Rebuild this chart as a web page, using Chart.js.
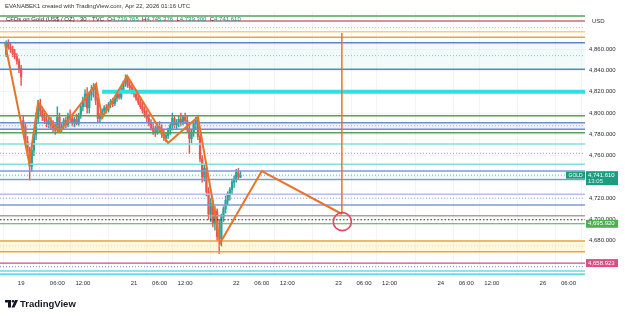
<!DOCTYPE html>
<html>
<head>
<meta charset="utf-8">
<script src="https://cdn.jsdelivr.net/npm/chart.js@4.4.1/dist/chart.umd.min.js"></script>
<style>
  html, body { margin: 0; padding: 0; background: #fff; }
  #wrap { position: relative; width: 625px; height: 319px; }
</style>
</head>
<body>
<div id="wrap"><canvas id="grafico" width="625" height="319"></canvas></div>
<script>
// =================== DATOS ===================
// Velas de 30 min; el eje x va en horas relativas al 21 abr 00:00 UTC
const primeraVela = -30;
const pasoVela = 0.5;

const aperturas = [
  4855, 4866, 4862, 4860, 4856, 4853, 4849, 4842,
  4793, 4787, 4773, 4765, 4750, 4765, 4780, 4795, 4808,
  4802, 4796, 4793, 4790, 4792, 4788, 4786, 4784, 4796, 4786,
  4788, 4793, 4789, 4798, 4795, 4791, 4794, 4790, 4798, 4806, 4812, 4818, 4805, 4817, 4822, 4824,
  4812, 4795, 4798, 4802, 4805, 4803, 4808, 4811, 4809, 4814, 4818, 4815, 4822, 4828, 4832, 4826, 4824, 4820, 4818,
  4814, 4810, 4806, 4802, 4798, 4795, 4790, 4786, 4783, 4782, 4787, 4785, 4780, 4777, 4779,
  4784, 4788, 4795, 4789, 4791, 4794, 4792, 4796, 4793, 4785, 4776, 4782, 4790, 4793,
  4778, 4757, 4740, 4748, 4726, 4705, 4715, 4697, 4708, 4684,
  4682, 4702, 4710, 4718, 4724, 4728, 4735, 4738, 4744, 4739.765
];
const maximos = [
  4868, 4869, 4866, 4863, 4860, 4856, 4851, 4845,
  4797, 4790, 4778, 4768, 4770, 4785, 4800, 4812, 4813,
  4806, 4800, 4797, 4795, 4796, 4793, 4790, 4806, 4800, 4790,
  4795, 4796, 4800, 4803, 4798, 4796, 4799, 4800, 4808, 4815, 4822, 4824, 4820, 4826, 4828, 4827,
  4815, 4800, 4804, 4807, 4808, 4810, 4813, 4814, 4816, 4820, 4822, 4824, 4830, 4836, 4834, 4830, 4828, 4823, 4822,
  4818, 4815, 4810, 4806, 4803, 4799, 4794, 4790, 4788, 4790, 4792, 4789, 4784, 4781, 4786,
  4790, 4800, 4798, 4794, 4797, 4800, 4798, 4800, 4797, 4790, 4785, 4792, 4796, 4796,
  4780, 4760, 4752, 4750, 4730, 4720, 4718, 4712, 4710, 4700,
  4705, 4712, 4722, 4726, 4730, 4738, 4741, 4747, 4748, 4745.376
];
const minimos = [
  4853, 4860, 4857, 4853, 4851, 4846, 4838, 4826,
  4783, 4770, 4760, 4737, 4745, 4760, 4775, 4790, 4798,
  4793, 4790, 4787, 4786, 4785, 4782, 4780, 4782, 4783, 4782,
  4785, 4786, 4787, 4792, 4788, 4787, 4789, 4788, 4795, 4802, 4806, 4800, 4800, 4812, 4815, 4808,
  4792, 4791, 4795, 4798, 4800, 4801, 4805, 4806, 4807, 4811, 4813, 4813, 4820, 4825, 4824, 4821, 4818, 4815, 4812,
  4808, 4804, 4800, 4796, 4792, 4788, 4784, 4780, 4778, 4780, 4782, 4777, 4774, 4773, 4776,
  4780, 4784, 4786, 4785, 4787, 4788, 4789, 4790, 4782, 4762, 4772, 4778, 4785, 4775,
  4754, 4735, 4736, 4722, 4700, 4698, 4693, 4690, 4680, 4668,
  4675, 4698, 4706, 4714, 4718, 4724, 4730, 4735, 4738, 4739.3
];
const cierres = [
  4866, 4862, 4860, 4856, 4853, 4849, 4842, 4834,
  4787, 4773, 4765, 4750, 4765, 4780, 4795, 4808, 4802,
  4796, 4793, 4790, 4792, 4788, 4786, 4784, 4796, 4786, 4788,
  4793, 4789, 4798, 4795, 4791, 4794, 4790, 4798, 4806, 4812, 4818, 4805, 4817, 4822, 4824, 4812,
  4795, 4798, 4802, 4805, 4803, 4808, 4811, 4809, 4814, 4818, 4815, 4822, 4828, 4832, 4826, 4824, 4820, 4818, 4814,
  4810, 4806, 4802, 4798, 4795, 4790, 4786, 4783, 4782, 4787, 4785, 4780, 4777, 4779, 4784,
  4788, 4795, 4789, 4791, 4794, 4792, 4796, 4793, 4785, 4776, 4782, 4790, 4793, 4778,
  4757, 4740, 4748, 4726, 4705, 4715, 4697, 4708, 4684, 4682,
  4702, 4710, 4718, 4724, 4728, 4735, 4738, 4744, 4740, 4741.61
];

// Eje de tiempo
const horasTicks = [-26.5, -18, -12, 0, 6, 12, 24, 30, 36, 48, 54, 60, 72, 78, 84, 96, 102];
const etiquetasTicks = ['19', '06:00', '12:00', '21', '06:00', '12:00', '22', '06:00', '12:00',
  '23', '06:00', '12:00', '24', '06:00', '12:00', '26', '06:00'];
const preciosTicks = [4680, 4700, 4720, 4740, 4760, 4780, 4800, 4820, 4840, 4860];

// Niveles horizontales dibujados
const nivelesPrecio = [4891.3, 4886.6, 4880.3, 4876.6, 4871.3, 4866.2, 4854.0, 4841.2, 4820.1,
  4797.6, 4791.0, 4788.1, 4784.8, 4781.6, 4770.9, 4762.2, 4751.8, 4745.5, 4741.61, 4737.6,
  4723.6, 4719.9, 4713.6, 4703.5, 4699.7, 4695.92, 4679.7, 4675.0, 4669.7, 4658.923,
  4655.6, 4651.5, 4648.4];
const nivelInicioCian = -7.5;   // la línea cian gruesa empieza aquí

// Zonas sombreadas (techo / piso)
const zonasTecho = [4866.2, 4791.0, 4679.7];
const zonasPiso  = [4841.2, 4784.8, 4669.7];

// Zigzag naranja + proyección
const zigHoras  = [-30.3, -24.6, -22.5, -17.6, -8.9, -7.5, -1.6, 8.0, 15.0, 20.2, 30.0, 48.8];
const zigPrecio = [4865.9, 4753.1, 4810.4, 4782.2, 4827.4, 4795.4, 4834.9, 4771.9, 4796.3, 4677.8, 4745.5, 4705.1];
const verticalHora = 48.8;
const verticalTope = 4875.3;
const circuloHora = 48.9;
const circuloPrecio = 4697.9;

// Etiquetas del eje de precios
const etiquetaVerde = 4695.92;
const etiquetaRosa = 4658.923;
const cuentaAtras = '13:05';

// =================== ESTILOS ===================
const VERDE = '#55a05c', AZUL = '#5a86c8', AZUL2 = '#7e9bd6', NARANJA = '#f0a23c';
const estilosNivel = [
  { c: VERDE, w: 1.5 }, { c: '#cf6a7d', w: 1.5 }, { c: '#e8b04a', w: 1, d: [1, 2] },
  { c: '#f3cf86', w: 1.5 }, { c: NARANJA, w: 1.5 }, { c: AZUL, w: 1.5 },
  { c: '#7fcfd0', w: 1, d: [1, 2] }, { c: AZUL, w: 1.5 }, { c: '#2fe0e0', w: 4, desde: true },
  { c: VERDE, w: 1.5 }, { c: '#6b8fd0', w: 1.5 }, { c: '#8fb1e0', w: 1, d: [1, 2] },
  { c: '#6b8fd0', w: 1.5 }, { c: VERDE, w: 1.5 }, { c: '#7ee0e6', w: 1.5 },
  { c: '#a0a0a0', w: 1, d: [1, 2] }, { c: '#7ee0e6', w: 1.5 }, { c: AZUL2, w: 1.5 },
  { c: '#3cbcb0', w: 1, d: [1, 2] }, { c: AZUL2, w: 1.5 }, { c: '#b6bde8', w: 1.5 },
  { c: '#8fb1e0', w: 1, d: [1, 2] }, { c: AZUL2, w: 1.5 }, { c: '#a3a3a3', w: 1.5 },
  { c: '#333333', w: 1.2, d: [1.5, 2] }, { c: VERDE, w: 1.2 }, { c: NARANJA, w: 1.5 },
  { c: '#f3d98a', w: 1, d: [1, 2] }, { c: NARANJA, w: 1.5 }, { c: '#d24c82', w: 1.2 },
  { c: '#8a7ad8', w: 1, d: [1, 2] }, { c: '#6fd8e6', w: 1.5 }, { c: '#5fe0ea', w: 2 }
];
const coloresZona = ['rgba(190,235,225,0.18)', 'rgba(130,160,225,0.12)', 'rgba(255,232,150,0.30)'];

const X_MIN = -31.46, X_MAX = 105.87;
const Y_MIN = 4646.8, Y_MAX = 4896.0;
const SUBE = '#26a69a', BAJA = '#ef5350';
const FUENTE = '"Liberation Sans", Arial, sans-serif';

// =================== DATASETS ===================
const horasVela = aperturas.map((_, i) => primeraVela + i * pasoVela);
const colorVela = aperturas.map((o, i) => cierres[i] >= o ? SUBE : BAJA);

const datasets = [];

// zonas sombreadas
zonasTecho.forEach((t, i) => {
  datasets.push({
    type: 'line', order: 20,
    data: [{ x: X_MIN, y: t }, { x: X_MAX, y: t }],
    borderWidth: 0, pointRadius: 0,
    backgroundColor: coloresZona[i],
    fill: { value: zonasPiso[i] }
  });
});

// mechas y cuerpos
datasets.push({
  type: 'bar', order: 10, grouped: false,
  data: horasVela.map((h, i) => ({ x: h, y: [minimos[i], maximos[i]] })),
  backgroundColor: colorVela, barThickness: 0.8
});
datasets.push({
  type: 'bar', order: 9, grouped: false,
  data: horasVela.map((h, i) => ({ x: h, y: [aperturas[i], cierres[i]] })),
  backgroundColor: colorVela, barThickness: 1.6, minBarLength: 1
});

// niveles horizontales
nivelesPrecio.forEach((p, i) => {
  const e = estilosNivel[i];
  datasets.push({
    type: 'line', order: 5,
    data: [{ x: e.desde ? nivelInicioCian : X_MIN, y: p }, { x: X_MAX, y: p }],
    borderColor: e.c, borderWidth: e.w, borderDash: e.d || [],
    pointRadius: 0, fill: false
  });
});

// zigzag
datasets.push({
  type: 'line', order: 2,
  data: zigHoras.map((h, i) => ({ x: h, y: zigPrecio[i] })),
  borderColor: '#e8742a', borderWidth: 2, pointRadius: 0, tension: 0, fill: false
});
// línea vertical
datasets.push({
  type: 'line', order: 2,
  data: [{ x: verticalHora, y: zigPrecio[zigPrecio.length - 1] }, { x: verticalHora, y: verticalTope }],
  borderColor: '#e8742a', borderWidth: 1.5, pointRadius: 0, fill: false
});
// círculo objetivo
datasets.push({
  type: 'scatter', order: 1,
  data: [{ x: circuloHora, y: circuloPrecio }],
  pointRadius: 9, pointBorderColor: '#e04860', pointBorderWidth: 1.6,
  pointBackgroundColor: 'rgba(0,0,0,0)', showLine: false
});

// =================== DECORACIÓN (cabecera, etiquetas, logo) ===================
const fmt = v => v.toLocaleString('en-US', { minimumFractionDigits: 3, maximumFractionDigits: 3 });

const decoracion = {
  id: 'decoracion',
  afterDraw(chart) {
    const ctx = chart.ctx;
    const ys = chart.scales.y, xs = chart.scales.x;
    const n = cierres.length - 1;
    ctx.save();
    ctx.textBaseline = 'middle';
    ctx.textAlign = 'left';

    // etiquetas del eje de tiempo (a mano, para que no muevan el área)
    ctx.font = '6px ' + FUENTE;
    ctx.fillStyle = '#2a2e39';
    ctx.textAlign = 'center';
    horasTicks.forEach((h, i) => ctx.fillText(etiquetasTicks[i], xs.getPixelForValue(h), 283));
    ctx.textAlign = 'left';

    // cabecera
    ctx.fillStyle = '#333';
    ctx.fillText('EVANABEK1 created with TradingView.com, Apr 22, 2026 01:16 UTC', 5, 6);

    const colVal = cierres[n] >= aperturas[n] ? '#089981' : '#f23645';
    const partes = [
      ['CFDs on Gold (US$ / OZ) · 30 · TVC  ', '#333'],
      ['O', '#333'], [fmt(aperturas[n]) + '  ', colVal],
      ['H', '#333'], [fmt(maximos[n]) + '  ', colVal],
      ['L', '#333'], [fmt(minimos[n]) + '  ', colVal],
      ['C', '#333'], [fmt(cierres[n]), colVal]
    ];
    let x = 6;
    partes.forEach(([t, c]) => {
      ctx.fillStyle = c;
      ctx.fillText(t, x, 19);
      x += ctx.measureText(t).width;
    });

    ctx.fillStyle = '#333';
    ctx.fillText('USD', 592, 21);

    // etiquetas del eje de precios
    const caja = (precio, color, texto, alto) => {
      const yp = ys.getPixelForValue(precio);
      ctx.fillStyle = color;
      ctx.fillRect(586, yp - 4, 32, alto);
      ctx.fillStyle = '#fff';
      ctx.font = '6px ' + FUENTE;
      ctx.fillText(texto, 588, yp);
      return yp;
    };
    caja(etiquetaVerde, '#4caf50', fmt(etiquetaVerde), 8);
    caja(etiquetaRosa, '#dd4d86', fmt(etiquetaRosa), 8);
    const yUlt = caja(cierres[n], '#1e9c82', fmt(cierres[n]), 14);
    ctx.fillStyle = 'rgba(255,255,255,0.85)';
    ctx.fillText(cuentaAtras, 588, yUlt + 6.5);

    // etiqueta GOLD
    ctx.fillStyle = '#1e9c82';
    ctx.fillRect(566, yUlt - 3.5, 19, 7);
    ctx.fillStyle = '#fff';
    ctx.font = '5px ' + FUENTE;
    ctx.fillText('GOLD', 568.5, yUlt);

    // logo TradingView
    ctx.fillStyle = '#131722';
    ctx.fillRect(5, 300, 6, 2.5);
    ctx.fillRect(8, 300, 3, 7.5);
    ctx.beginPath();
    ctx.arc(13, 301.3, 1.3, 0, Math.PI * 2);
    ctx.fill();
    ctx.beginPath();
    ctx.moveTo(15, 300); ctx.lineTo(18, 300); ctx.lineTo(14.5, 307.5); ctx.lineTo(11.5, 307.5);
    ctx.closePath();
    ctx.fill();
    ctx.font = 'bold 9.5px ' + FUENTE;
    ctx.fillText('TradingView', 20, 304);
    ctx.restore();
  }
};

// =================== GRÁFICO ===================
new Chart(document.getElementById('grafico'), {
  type: 'bar',
  data: { datasets },
  plugins: [decoracion],
  options: {
    responsive: false,
    animation: false,
    devicePixelRatio: 1,
    layout: { autoPadding: false, padding: { top: 11, bottom: 29, left: 0, right: 0 } },
    plugins: { legend: { display: false }, tooltip: { enabled: false } },
    scales: {
      x: {
        type: 'linear', min: X_MIN, max: X_MAX, offset: false,
        afterFit: s => { s.height = 14; },
        afterBuildTicks: s => { s.ticks = horasTicks.map(v => ({ value: v })); },
        grid: { color: 'rgba(42,46,57,0.05)', drawTicks: false },
        border: { display: false },
        ticks: { display: false }
      },
      y: {
        type: 'linear', position: 'right', min: Y_MIN, max: Y_MAX,
        afterFit: s => { s.width = 40; },
        afterBuildTicks: s => { s.ticks = preciosTicks.map(v => ({ value: v })); },
        grid: { color: 'rgba(42,46,57,0.05)', drawTicks: false },
        border: { display: false },
        ticks: {
          padding: 4, color: '#2a2e39', font: { size: 6, family: FUENTE },
          callback: v => fmt(v)
        }
      }
    }
  }
});
</script>
</body>
</html>
